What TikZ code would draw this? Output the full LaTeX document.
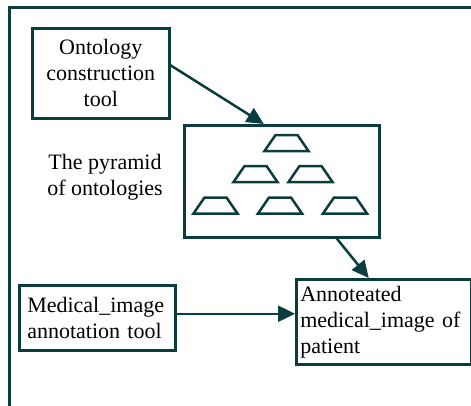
\documentclass[tikz,border=0pt]{standalone}
\usepackage{fontspec}
\setmainfont{Liberation Serif}
\usepackage{tikz}
\usetikzlibrary{arrows.meta}
\usetikzlibrary{positioning}
\usetikzlibrary{calc}

\definecolor{pine}{RGB}{10,62,62}

\tikzset{
  box/.style={draw=pine,line width=2.5pt,rectangle,inner sep=4pt,
    font=\fontsize{22}{26}\selectfont},
  link/.style={draw=pine,line width=2.5pt,-{Triangle[length=17pt,width=16pt]}},
  block/.pic={\draw[pine,line width=2.5pt,line join=miter]
    (-22,8) -- (22,8) -- (11,-8) -- (-11,-8) -- cycle;}
}

\begin{document}
\begin{tikzpicture}[x=1pt,y=-1pt,line cap=butt]
\useasboundingbox (0,0) rectangle (471,405);
% outer frame, cut at the page edge
\draw[pine,line width=3pt] (9,410) -- (9,7) -- (476,7);

\node[box,anchor=north west,minimum width=137pt,minimum height=90pt,
  align=center] (tool) at (31,27) {Ontology\\construction\\tool};

\node[font=\fontsize{22}{26}\selectfont,align=center] (pyrlabel) at (105,177)
  {The pyramid\\of ontologies};

\node[box,anchor=north west,minimum width=195pt,minimum height=112pt]
  (pyr) at (183,124) {};
\foreach \cx/\cy in {286.5/143, 255.5/174, 310.5/174, 215.5/205.5, 280/205.5, 345/205.5}
  \pic at (\cx,\cy) {block};

\node[box,anchor=north west,minimum width=156pt,minimum height=65pt,
  inner sep=8pt,text width=140pt,align=left] (med) at (18,284)
  {Medical\_image\\annotation tool};

\node[box,anchor=north west,minimum width=175pt,minimum height=85pt,
  inner sep=3pt,text width=167pt,align=left] (annot) at (295,278)
  {Annoteated\\medical\_image of\\patient};

\draw[link] ([yshift=8pt]tool.east) -- ([xshift=-18pt]pyr.north);
\draw[link] ([xshift=55pt]pyr.south) -- ([xshift=-15pt]annot.north);
\draw[link] ([yshift=4pt]med.east) -- ([yshift=4pt]med.east -| annot.west);
\end{tikzpicture}
\end{document}
